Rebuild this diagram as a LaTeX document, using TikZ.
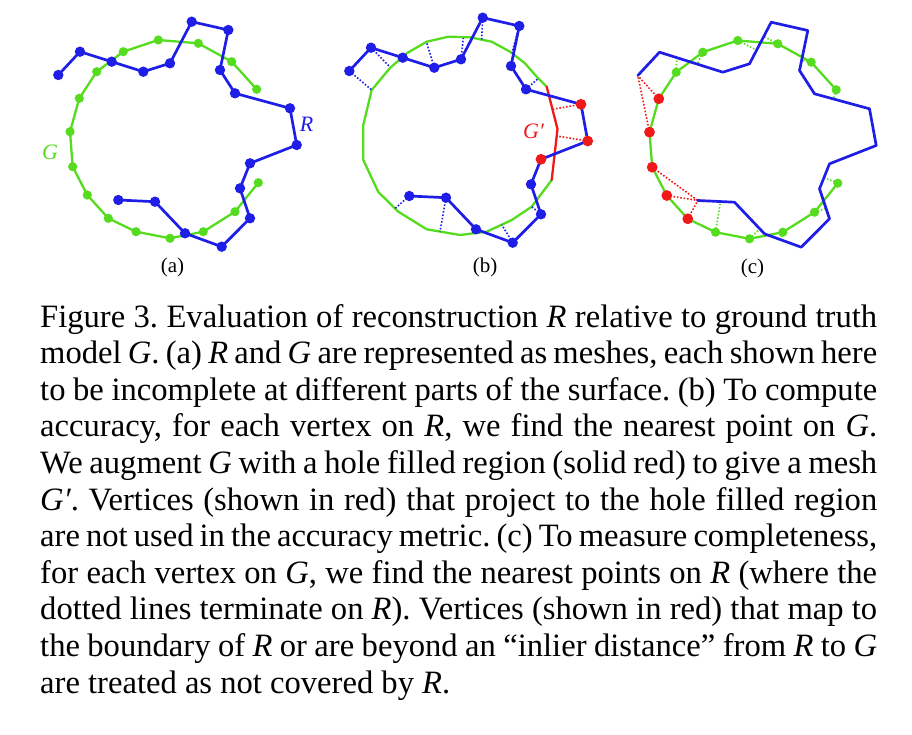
\documentclass[tikz,border=0pt]{standalone}
\usepackage{fontspec}
\setmainfont{Liberation Serif}

\definecolor{rblue}{RGB}{30,30,230}
\definecolor{ggreen}{RGB}{85,220,30}
\definecolor{hred}{RGB}{240,25,25}

% vertices of R and G, in the frame of panel (a)
\newcommand{\Rpts}{58.3/75, 80/51.7, 111.7/61.7, 143.3/71.7, 170/63.3, 191.7/21.7,
  228.3/30, 220/70, 235/93.3, 290/108.3, 296.7/145, 250/163.3, 240/188.3,
  250/218.3, 221.7/246.7, 185/233.3, 155/201.7, 118.3/200}
\newcommand{\Gpts}{256.7/89.3, 231.7/61.7, 198.3/43.3, 158.3/40, 123.3/51.7,
  96.7/71.7, 79.3/98.3, 70/131.7, 72.7/166.7, 87.3/195, 108.3/218.3, 136/231.7,
  170/238.3, 203.3/231.7, 235/211.7, 258.3/182.7}
% finer G used in panel (b)
\newcommand{\Hpts}{255.7/90.7, 245.7/80.7, 234/67.3, 219/55.7, 200.7/45.7,
  179/41.3, 157.3/40.7, 135.7/45.7, 115.7/57.3, 99/72, 80.7/94, 72.3/129,
  72.3/164, 87.3/196, 107.3/215.7, 135.7/233.3, 169/239, 195.7/235.7,
  220.7/224, 240.7/210.7, 260.7/184}

\tikzset{
  rmesh/.style={rblue, line width=2.7pt, line join=round, line cap=round},
  gmesh/.style={ggreen, line width=2.3pt, line join=round, line cap=round},
  holemesh/.style={hred, line width=2.3pt, line join=round, line cap=round},
  proj/.style={line width=1.6pt, dash pattern=on 1.6pt off 1.8pt},
  meshlabel/.style={font=\fontsize{22}{24}\selectfont\itshape, inner sep=0pt},
  panlabel/.style={font=\fontsize{21}{23}\selectfont, inner sep=0pt},
  capline/.style={anchor=base west, inner sep=0pt, text height=23pt, text depth=7pt,
    font=\fontsize{32.6}{36}\selectfont\frenchspacing},
}

\begin{document}
\begin{tikzpicture}[x=1pt, y=-1pt]
  \useasboundingbox (0,0) rectangle (912,735);

  % (a) R and G as meshes
  \begin{scope}[name prefix=a-]
    \foreach \x/\y [count=\i] in \Rpts {\coordinate (r\i) at (\x,\y);}
    \foreach \x/\y [count=\i] in \Gpts {\coordinate (g\i) at (\x,\y);}
    % ground truth G
    \draw[gmesh] (g1) \foreach \i in {2,...,16} {-- (g\i)};
    \foreach \i in {1,...,16} \fill[ggreen] (g\i) circle (4.6pt);
    % reconstruction R
    \draw[rmesh] (r1) \foreach \i in {2,...,18} {-- (r\i)};
    \foreach \i in {1,...,18} \fill[rblue] (r\i) circle (5.2pt);
  \end{scope}
  \node[meshlabel, ggreen] (labG) at (50,152.5) {G};
  \node[meshlabel, rblue] (labR) at (306.7,124) {R};

  % (b) accuracy: R projected onto G augmented with the hole fill
  \begin{scope}[shift={(291,-4)}, name prefix=b-]
    \foreach \x/\y [count=\i] in \Rpts {\coordinate (r\i) at (\x,\y);}
    \foreach \x/\y [count=\i] in \Hpts {\coordinate (h\i) at (\x,\y);}
    \coordinate (hm) at (266.5,133);
    % G and the filled hole G'
    \draw[gmesh] (h1) \foreach \i in {2,...,21} {-- (h\i)};
    \draw[holemesh] (h1) -- (hm) -- (h21);
    % nearest points on G'
    \foreach \i/\x/\y in {1/80.7/94, 2/98/70, 4/135.7/47, 5/172.3/42, 6/190.7/43.5,
      7/221/56.5, 9/247.3/82.3, 14/240.7/210.7, 15/210.7/228.7, 17/149/235.6,
      18/104/212.5} {
      \coordinate (q\i) at (\x,\y);
      \draw[proj, rblue] (r\i) -- (q\i);
    }
    \foreach \i/\x/\y in {10/261.5/113.3, 11/265.7/140} {
      \coordinate (q\i) at (\x,\y);
      \draw[proj, hred] (r\i) -- (q\i);
    }
    % reconstruction R
    \draw[rmesh] (r1) \foreach \i in {2,...,18} {-- (r\i)};
    \foreach \i in {1,...,9,13,14,...,18} \fill[rblue] (r\i) circle (5.2pt);
    \foreach \i in {10,11,12} \fill[hred] (r\i) circle (5.4pt);
  \end{scope}
  \node[meshlabel, hred] (labGp) at (533.5,131) {G′};

  % (c) completeness: G projected onto R
  \begin{scope}[shift={(579.5,0.5)}, name prefix=c-]
    \foreach \x/\y [count=\i] in \Rpts {\coordinate (r\i) at (\x,\y);}
    \foreach \x/\y [count=\i] in \Gpts {\coordinate (g\i) at (\x,\y);}
    % ground truth G
    \draw[gmesh] (g1) \foreach \i in {2,...,16} {-- (g\i)};
    \foreach \i in {1,...,6,12,13,...,16} \fill[ggreen] (g\i) circle (4.6pt);
    \foreach \i in {7,...,11} \fill[hred] (g\i) circle (5.4pt);
    % nearest points on R
    \foreach \i/\x/\y in {1/254.2/98.5, 2/222.1/59.7, 3/184.3/36, 4/177.1/49.7,
      5/118/63.5, 6/97.2/57.3, 12/141/201.2, 13/180.4/228.4, 14/200.7/239,
      15/246.5/207.8, 16/244.5/177.1} {
      \coordinate (p\i) at (\x,\y);
      \draw[proj, ggreen] (g\i) -- (p\i);
    }
    % vertices mapping to the boundary of R
    \foreach \i in {7,8} \draw[proj, hred] (g\i) -- (r1);
    \foreach \i in {9,10,11} \draw[proj, hred] (g\i) -- (r18);
    % reconstruction R
    \draw[rmesh] (r1) \foreach \i in {2,...,18} {-- (r\i)};
  \end{scope}

  % panel labels
  \node[panlabel] (pa) at (172.5,267) {(a)};
  \node[panlabel] (pb) at (485,267) {(b)};
  \node[panlabel] (pc) at (752.5,268) {(c)};

  % caption
  \node[capline] (cap1) at (40,327) {\makebox[837pt][s]{Figure 3. Evaluation of reconstruction \textit{R} relative to ground truth}};
  \node[capline] (cap2) at (40,363.6) {\makebox[837pt][s]{model \textit{G}. (a) \textit{R} and \textit{G} are represented as meshes, each shown here}};
  \node[capline] (cap3) at (40,400.2) {\makebox[837pt][s]{to be incomplete at different parts of the surface. (b) To compute}};
  \node[capline] (cap4) at (40,436.8) {\makebox[837pt][s]{accuracy, for each vertex on \textit{R}, we find the nearest point on \textit{G}.}};
  \node[capline] (cap5) at (40,473.4) {\makebox[837pt][s]{We augment \textit{G} with a hole filled region (solid red) to give a mesh}};
  \node[capline] (cap6) at (40,510) {\makebox[837pt][s]{\textit{G′}. Vertices (shown in red) that project to the hole filled region}};
  \node[capline] (cap7) at (40,546.6) {\makebox[837pt][s]{are not used in the accuracy metric. (c) To measure completeness,}};
  \node[capline] (cap8) at (40,583.2) {\makebox[837pt][s]{for each vertex on \textit{G}, we find the nearest points on \textit{R} (where the}};
  \node[capline] (cap9) at (40,619.8) {\makebox[837pt][s]{dotted lines terminate on \textit{R}). Vertices (shown in red) that map to}};
  \node[capline] (cap10) at (40,656.4) {\makebox[837pt][s]{the boundary of \textit{R} or are beyond an “inlier distance” from \textit{R} to \textit{G}}};
  \node[capline] (cap11) at (40,693) {are treated as not covered by \textit{R}.};
\end{tikzpicture}
\end{document}
